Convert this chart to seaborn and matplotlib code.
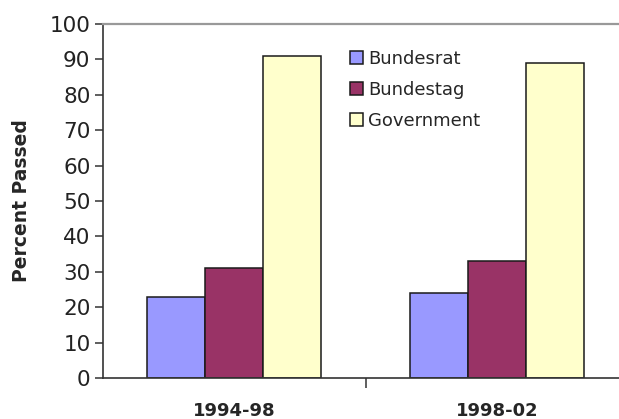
import pandas as pd
import matplotlib
matplotlib.use("Agg")
import matplotlib.pyplot as plt
import seaborn as sns

# values
periods = ["1994-98", "1998-02"]
bodies = ["Bundesrat", "Bundestag", "Government"]
bundesrat = [23, 24]
bundestag = [31, 33]
government = [91, 89]
bar_colors = ["#9999FF", "#993366", "#FFFFCC"]

df = pd.DataFrame({
    "period": periods * 3,
    "body": [b for b in bodies for _ in periods],
    "percent": bundesrat + bundestag + government,
})

sns.set_style("white")
plt.rcParams["font.family"] = ["DejaVu Sans"]

fig = plt.figure(figsize=(6.19, 4.19), dpi=100)
ax = fig.add_axes([103 / 619, 1 - 378 / 419, 525 / 619, 354 / 419])

sns.barplot(data=df, x="period", y="percent", hue="body", order=periods,
            hue_order=bodies, palette=bar_colors, saturation=1, width=0.664,
            edgecolor="#1a1a1a", linewidth=1.1, ax=ax)

ax.set_xlim(-0.5, 1.5)
ax.set_ylim(0, 100)
ax.set_yticks(range(0, 101, 10))
ax.tick_params(axis="y", left=True, direction="out", length=6, width=1.1,
               color="#333333", labelsize=15.5, labelcolor="#222222", pad=3)
ax.set_xticks([0, 1])
ax.set_xticklabels(periods, fontsize=13, fontweight="bold")
ax.set_xticks([0.5], minor=True)
ax.tick_params(axis="x", which="major", bottom=False, length=0, pad=17)
ax.tick_params(axis="x", which="minor", bottom=True, direction="out",
               length=7, width=1.1, color="#333333")
ax.set_xlabel("")
ax.set_ylabel("Percent Passed", fontsize=13.5, fontweight="bold")
ax.yaxis.set_label_coords(-72 / 525, 0.5)

for side in ["left", "bottom"]:
    ax.spines[side].set_color("#333333")
    ax.spines[side].set_linewidth(1.2)
ax.spines["top"].set_color("#999999")
ax.spines["top"].set_linewidth(1.6)
ax.spines["right"].set_visible(False)

sns.move_legend(ax, "upper left", bbox_to_anchor=(341 / 619, 1 - 41 / 419),
                bbox_transform=fig.transFigure, title=None, frameon=False,
                fontsize=13, handlelength=0.7, handleheight=0.7,
                handletextpad=0.3, labelspacing=0.72, borderpad=0)

fig.savefig("out.png", dpi=100)
